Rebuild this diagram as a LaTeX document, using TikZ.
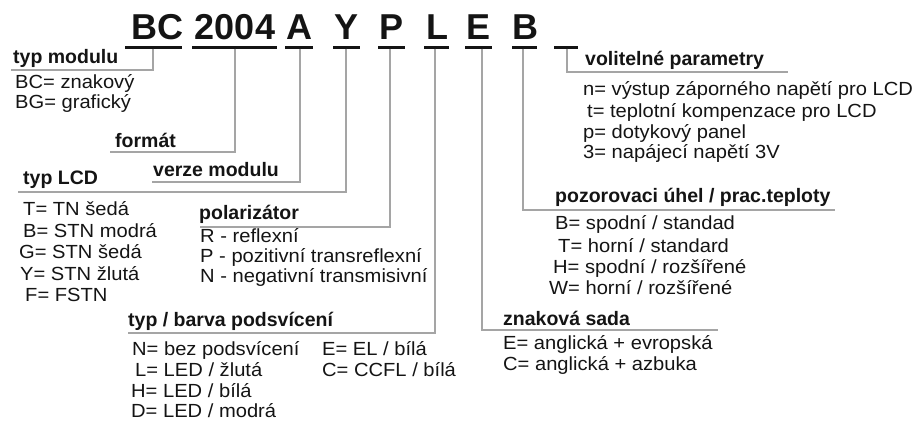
\documentclass[tikz,border=0pt]{standalone}
\usepackage{fontspec}
\setmainfont{Liberation Sans}
\newfontfamily\bodyf[FakeStretch=1.06]{Liberation Sans}
\newfontfamily\hdrf{Liberation Sans}
\definecolor{linegray}{RGB}{165,165,165}
\definecolor{ink}{RGB}{20,20,20}
\begin{document}
\begin{tikzpicture}[x=1pt,y=-1pt,
  title/.style={font=\hdrf\bfseries\fontsize{36}{36}\selectfont,inner sep=0pt,anchor=base,text=ink},
  hdr/.style={font=\hdrf\bfseries\fontsize{19.5}{21}\selectfont,inner sep=0pt,anchor=base west,text=ink},
  body/.style={font=\bodyf\fontsize{19}{21}\selectfont,inner sep=0pt,anchor=base west,text=ink},
  uline/.style={line width=3pt,ink},
  conn/.style={line width=1.3pt,linegray}]
\useasboundingbox (0,0) rectangle (915,423);

% title letters
\node[title] (tBC) at (157.5,39) {BC};
\node[title] (t2004) at (235,39) {2004};
\node[title] (tA) at (299.5,39) {A};
\node[title] (tY) at (346.5,39) {Y};
\node[title] (tP) at (392,39) {P};
\node[title] (tL) at (437,39) {L};
\node[title] (tE) at (478.5,39) {E};
\node[title] (tB) at (525,39) {B};

% underlines
\draw[uline] (125,47) -- (182,47);
\draw[uline] (192,47) -- (277,47);
\draw[uline] (285,47) -- (313,47);
\draw[uline] (333,47) -- (360,47);
\draw[uline] (378,47) -- (405,47);
\draw[uline] (424,47) -- (449,47);
\draw[uline] (465,47) -- (492,47);
\draw[uline] (512,47) -- (537,47);
\draw[uline] (554,47) -- (578,47);

% connector coordinates
\coordinate (sBC) at (153,48.5);   \coordinate (eBC) at (11,70);
\coordinate (s2004) at (235,48.5); \coordinate (e2004) at (110,152);
\coordinate (sA) at (300,48.5);    \coordinate (eA) at (152,182);
\coordinate (sY) at (346,48.5);    \coordinate (eY) at (18,192);
\coordinate (sP) at (390,48.5);    \coordinate (eP) at (200,227);
\coordinate (sL) at (435,48.5);    \coordinate (eL) at (128,333);
\coordinate (sE) at (482,48.5);    \coordinate (eE) at (718,330);
\coordinate (sB) at (523,48.5);    \coordinate (eB) at (835,210);
\coordinate (sU) at (567,48.5);    \coordinate (eU) at (788,72);

\draw[conn] (sBC) |- (eBC);
\draw[conn] (s2004) |- (e2004);
\draw[conn] (sA) |- (eA);
\draw[conn] (sY) |- (eY);
\draw[conn] (sP) |- (eP);
\draw[conn] (sL) |- (eL);
\draw[conn] (sE) |- (eE);
\draw[conn] (sB) |- (eB);
\draw[conn] (sU) |- (eU);

% typ modulu
\node[hdr] (hMod) at (13,63) {typ modulu};
\node[body] (m1) at (15,88) {BC= znakový};
\node[body] (m2) at (15,108) {BG= grafický};

% format, verze
\node[hdr] (hFmt) at (115,147) {formát};
\node[hdr] (hVer) at (153,176) {verze modulu};

% typ LCD
\node[hdr] (hLCD) at (23,184) {typ LCD};
\node[body] (l1) at (23,215) {T= TN šedá};
\node[body] (l2) at (23,237) {B= STN modrá};
\node[body] (l3) at (19,258) {G= STN šedá};
\node[body] (l4) at (20,280) {Y= STN žlutá};
\node[body] (l5) at (25,301) {F= FSTN};

% polarizator
\node[hdr] (hPol) at (199,219) {polarizátor};
\node[body] (p1) at (200,242) {R - reflexní};
\node[body] (p2) at (200,262) {P - pozitivní transreflexní};
\node[body] (p3) at (200,282) {N - negativní transmisivní};

% podsviceni
\node[hdr] (hPod) at (128,326) {typ / barva podsvícení};
\node[body] (b1) at (132,355) {N= bez podsvícení};
\node[body] (b2) at (135,376) {L= LED / žlutá};
\node[body] (b3) at (131,397) {H= LED / bílá};
\node[body] (b4) at (131,417) {D= LED / modrá};
\node[body] (b5) at (322,355) {E= EL / bílá};
\node[body] (b6) at (322,376) {C= CCFL / bílá};

% znakova sada
\node[hdr] (hZn) at (503,325) {znaková sada};
\node[body] (z1) at (503,349) {E= anglická + evropská};
\node[body] (z2) at (503,370) {C= anglická + azbuka};

% pozorovaci uhel
\node[hdr] (hPoz) at (555,202) {pozorovaci úhel / prac.teploty};
\node[body] (u1) at (555,229) {B= spodní / standad};
\node[body] (u2) at (558,252) {T= horní / standard};
\node[body] (u3) at (553,273) {H= spodní / rozšířené};
\node[body] (u4) at (549,294) {W= horní / rozšířené};

% volitelne parametry
\node[hdr] (hVol) at (585,65) {volitelné parametry};
\node[body] (v1) at (583,95) {n= výstup záporného napětí pro LCD};
\node[body] (v2) at (587,117) {t= teplotní kompenzace pro LCD};
\node[body] (v3) at (583,138) {p= dotykový panel};
\node[body] (v4) at (583,158) {3= napájecí napětí 3V};
\end{tikzpicture}
\end{document}
